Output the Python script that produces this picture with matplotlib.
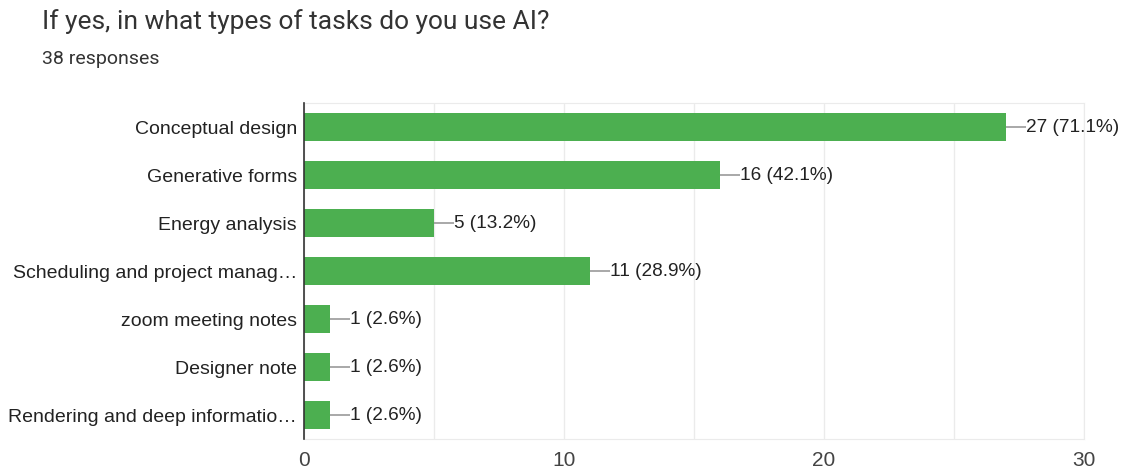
import matplotlib.pyplot as plt

categories = ['Conceptual design', 'Generative forms', 'Energy analysis',
              'Scheduling and project manag\u2026', 'zoom meeting notes',
              'Designer note', 'Rendering and deep informatio\u2026']
counts = [27, 16, 5, 11, 1, 1, 1]
percents = [71.1, 42.1, 13.2, 28.9, 2.6, 2.6, 2.6]
total = 38

plt.rcParams['font.family'] = ['Liberation Sans', 'DejaVu Sans']

fig = plt.figure(figsize=(11.27, 4.70), dpi=100)
ax = fig.add_axes([304 / 1127, 1 - 439 / 470, 780 / 1127, 336 / 470])

y = list(range(len(categories)))
ax.barh(y, counts, height=0.6, color='#4caf50', zorder=3)
ax.set_ylim(len(categories) - 0.5, -0.5)
ax.set_xlim(0, 30)

# value labels with a short leader line
for yi, c, p in zip(y, counts, percents):
    ax.plot([c, c + 0.75], [yi, yi], color='#999999', lw=1.2, zorder=3,
            solid_capstyle='butt')
    ax.text(c + 0.76, yi, f'{c} ({p}%)', va='center', ha='left',
            fontsize=13.7, color='#222222')

ax.set_yticks(y)
ax.set_yticklabels(categories, fontsize=14, color='#222222')
ax.set_xticks([0, 10, 20, 30])
ax.set_xticks([5, 15, 25], minor=True)
ax.tick_params(axis='x', which='both', length=0, labelsize=15,
               labelcolor='#444444', pad=9)
ax.tick_params(axis='y', length=0, pad=5)
ax.grid(axis='x', which='both', color='#ebebeb', lw=1, zorder=0)

for side in ['top', 'right', 'bottom']:
    ax.spines[side].set_color('#ebebeb')
ax.spines['left'].set_color('#333333')
ax.spines['left'].set_linewidth(1.2)
ax.spines['left'].set_zorder(4)

fig.text(42 / 1127, 1 - 22 / 470, 'If yes, in what types of tasks do you use AI?',
         fontsize=19, family='Roboto', color='#333333', va='center')
fig.text(42 / 1127, 1 - 59 / 470, f'{total} responses', fontsize=14,
         family='Roboto', color='#333333', va='center')

fig.savefig('out.png', dpi=100)
